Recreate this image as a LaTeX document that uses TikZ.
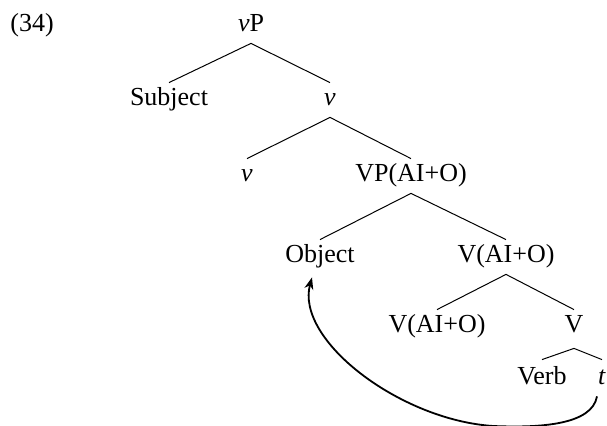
\documentclass[tikz,border=0pt]{standalone}
\usepackage{fontspec}
\setmainfont{Liberation Serif}
\usetikzlibrary{arrows.meta}
\begin{document}
\begin{tikzpicture}[x=0.5pt,y=-0.5pt,
  lab/.style={inner sep=0pt,text height=11.5pt,text depth=5.5pt,anchor=base,font=\fontsize{13}{15}\selectfont},
  branch/.style={line width=0.5pt},
  mvt/.style={line width=0.9pt,-{Stealth[length=6pt,width=4.5pt]}}]
\useasboundingbox (0,0) rectangle (607,426);
\node[lab,anchor=base west] (ex) at (10,32) {(34)};
\node[lab] (vP) at (251,32) {\textit{v}P};
\node[lab] (subj) at (169,106) {Subject};
\node[lab] (v1) at (330,106) {\textit{v}};
\node[lab] (v2) at (247,182) {\textit{v}};
\node[lab] (VP) at (411,182) {VP(AI+O)};
\node[lab] (obj) at (320,263) {Object};
\node[lab] (Vb1) at (506,263) {V(AI+O)};
\node[lab] (Vb2) at (437,333) {V(AI+O)};
\node[lab] (V) at (574,333) {V};
\node[lab] (verb) at (542,385) {Verb};
\node[lab] (t) at (602,385) {\textit{t}};
\draw[branch] (subj.north) -- (vP.south) -- (v1.north);
\draw[branch] (v2.north) -- (v1.south) -- (VP.north);
\draw[branch] (obj.north) -- (VP.south) -- (Vb1.north);
\draw[branch] (Vb2.north) -- (Vb1.south) -- (V.north);
\draw[branch] ([yshift=1pt]verb.north) -- ([yshift=-2pt]V.south) -- ([yshift=1pt]t.north);
\draw[mvt] ([xshift=-2.5pt]t.south) .. controls (592,425) and (540,428) .. (493,426)
  .. controls (400,420) and (295,340) .. ([xshift=-4pt,yshift=-1.5pt]obj.south);
\end{tikzpicture}
\end{document}
